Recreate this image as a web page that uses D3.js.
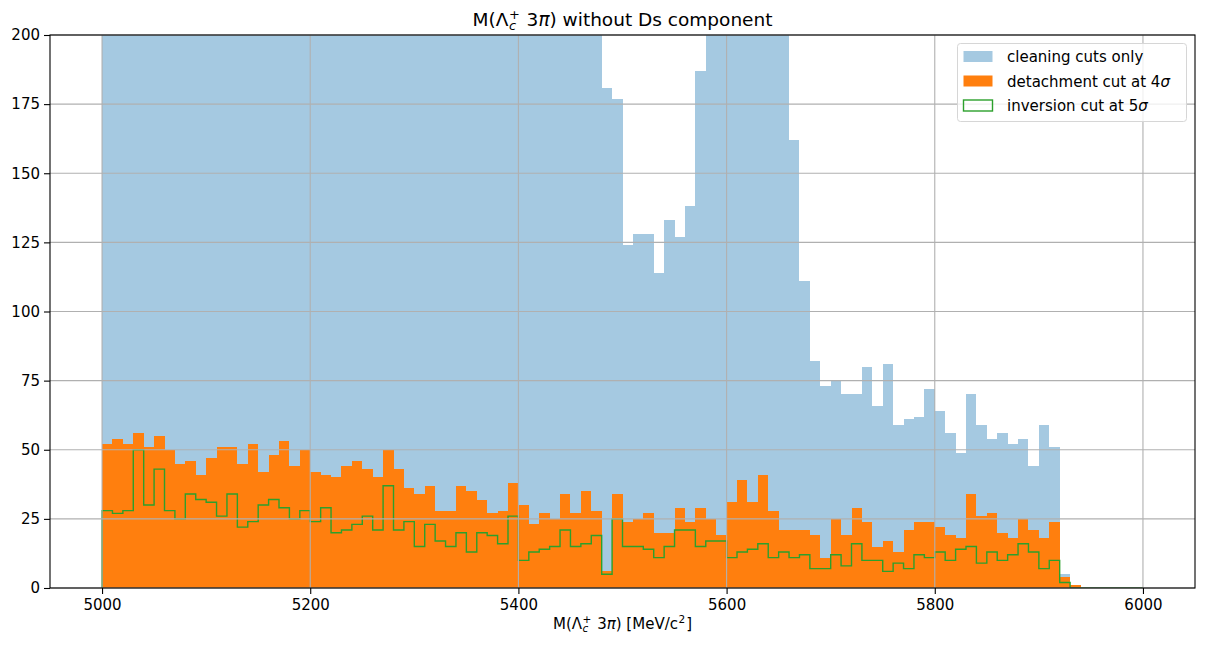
<!DOCTYPE html>
<html>
<head>
<meta charset="utf-8">
<script src="https://cdn.jsdelivr.net/npm/d3@7"></script>
<style>
  body { margin: 0; background: #fff; }
  svg text { font-family: "DejaVu Sans", sans-serif; white-space: pre; fill: #000; }
</style>
</head>
<body>
<svg id="chart" width="1218" height="645"></svg>
<script>
// Histogram binning: 100 bins of 10 MeV/c^2 between 5000 and 6000
const binEdges = d3.range(5000, 6001, 10);

// Entries per bin, cleaning cuts only (first bins run far above the 200 axis limit)
const cleaningCuts = [
  412, 398, 405, 391, 387, 379, 384, 370, 366, 372,
  358, 351, 355, 346, 340, 343, 334, 329, 331, 322,
  318, 320, 311, 306, 309, 300, 297, 292, 294, 286,
  283, 279, 281, 273, 270, 266, 268, 261, 257, 259,
  252, 248, 244, 246, 239, 236, 231, 226, 181, 177,
  124, 128, 128, 114, 133, 127, 138, 187, 236, 281,
  322, 347, 338, 301, 262, 218, 162, 111, 82, 73,
  75, 70, 70, 80, 66, 81, 59, 61, 62, 72,
  64, 56, 49, 70, 59, 54, 56, 52, 54, 44,
  59, 51, 5, 1, 0, 0, 0, 0, 0, 0
];

// Entries per bin after the detachment cut at 4 sigma
const detachmentCut = [
  52, 54, 52, 56, 51, 55, 50, 45, 46, 41,
  47, 51, 51, 45, 52, 42, 48, 53, 44, 50,
  42, 41, 40, 44, 46, 43, 40, 50, 43, 36,
  34, 37, 28, 28, 37, 35, 32, 27, 28, 38,
  30, 23, 27, 25, 34, 27, 35, 28, 6, 34,
  24, 25, 27, 20, 20, 29, 24, 29, 25, 19,
  31, 39, 31, 41, 28, 21, 21, 21, 19, 11,
  25, 19, 29, 24, 15, 17, 13, 21, 24, 24,
  22, 19, 18, 34, 26, 27, 20, 18, 25, 21,
  18, 24, 4, 1, 0, 0, 0, 0, 0, 0
];

// Entries per bin after the inversion cut at 5 sigma
const inversionCut = [
  28, 27, 28, 50, 30, 43, 28, 25, 34, 32,
  31, 26, 34, 22, 24, 30, 32, 29, 25, 28,
  24, 29, 20, 21, 23, 26, 21, 37, 21, 24,
  15, 23, 17, 15, 20, 13, 20, 19, 16, 26,
  10, 13, 14, 15, 21, 15, 16, 19, 5, 25,
  15, 15, 14, 11, 15, 21, 21, 15, 17, 17,
  11, 13, 14, 16, 11, 13, 11, 12, 7, 7,
  12, 8, 16, 10, 10, 6, 9, 7, 12, 11,
  13, 10, 14, 15, 9, 13, 10, 12, 16, 13,
  7, 10, 2, 0, 0, 0, 0, 0, 0, 0
];

const xTicks = [5000, 5200, 5400, 5600, 5800, 6000];
const yTicks = [0, 25, 50, 75, 100, 125, 150, 175, 200];

// Text pieces: plain / italic runs and stacked sub-/superscripts
const titleText = [
  { t: "M(Λ" }, { sub: "c", sup: "+" }, { t: " 3" }, { t: "π", it: true },
  { t: ") without Ds component" }
];
const xLabelText = [
  { t: "M(Λ" }, { sub: "c", sup: "+" }, { t: " 3" }, { t: "π", it: true },
  { t: ") [MeV/c" }, { sup: "2" }, { t: "]" }
];
const legendText = [
  [{ t: "cleaning cuts only" }],
  [{ t: "detachment cut at 4" }, { t: "σ", it: true }],
  [{ t: "inversion cut at 5" }, { t: "σ", it: true }]
];

const colBlue = "rgba(31,119,180,0.4)";
const colOrange = "#ff7f0e";
const colGreen = "#2ca02c";

const plot = { left: 50, right: 1195, top: 35, bottom: 588 };
const svg = d3.select("#chart");

const x = d3.scaleLinear().domain([4950, 6050]).range([plot.left, plot.right]);
const y = d3.scaleLinear().domain([0, 200]).range([plot.bottom, plot.top]);

svg.append("defs").append("clipPath").attr("id", "plotClip")
  .append("rect")
  .attr("x", plot.left).attr("y", plot.top)
  .attr("width", plot.right - plot.left).attr("height", plot.bottom - plot.top);

const area = svg.append("g").attr("clip-path", "url(#plotClip)");

function drawBars(values, fill) {
  const bins = values.map((v, i) => ({ v, x0: binEdges[i], x1: binEdges[i + 1] }))
    .filter(d => d.v > 0);
  area.append("g").attr("shape-rendering", "crispEdges")
    .selectAll("rect").data(bins).join("rect")
    .attr("x", d => x(d.x0))
    .attr("width", d => x(d.x1) - x(d.x0))
    .attr("y", d => y(d.v))
    .attr("height", d => y(0) - y(d.v))
    .attr("fill", fill);
}

drawBars(cleaningCuts, colBlue);
drawBars(detachmentCut, colOrange);

// Outline histogram (step) for the inversion cut
const stepPts = [[binEdges[0], 0]];
inversionCut.forEach((v, i) => { stepPts.push([binEdges[i], v]); stepPts.push([binEdges[i + 1], v]); });
stepPts.push([binEdges[binEdges.length - 1], 0]);
area.append("path")
  .attr("d", d3.line().x(d => x(d[0])).y(d => y(d[1]))(stepPts))
  .attr("fill", "none")
  .attr("stroke", colGreen)
  .attr("stroke-width", 1.4)
  .attr("stroke-linejoin", "miter");

// Grid
const grid = svg.append("g").attr("stroke", "#b0b0b0").attr("stroke-width", 1.1);
grid.selectAll("line.gx").data(xTicks).join("line").attr("class", "gx")
  .attr("x1", d => x(d)).attr("x2", d => x(d))
  .attr("y1", plot.top).attr("y2", plot.bottom);
grid.selectAll("line.gy").data(yTicks).join("line").attr("class", "gy")
  .attr("x1", plot.left).attr("x2", plot.right)
  .attr("y1", d => y(d)).attr("y2", d => y(d));

// Axes
const fs = 15;
const xAxis = d3.axisBottom(x).tickValues(xTicks).tickSize(6).tickPadding(5).tickFormat(d3.format("d"));
const yAxis = d3.axisLeft(y).tickValues(yTicks).tickSize(6).tickPadding(4).tickFormat(d3.format("d"));
const gx = svg.append("g").attr("transform", `translate(0,${plot.bottom})`).call(xAxis);
const gy = svg.append("g").attr("transform", `translate(${plot.left},0)`).call(yAxis);
[gx, gy].forEach(g => {
  g.select(".domain").remove();
  g.selectAll(".tick line").attr("stroke", "#000").attr("stroke-width", 1.1);
  g.selectAll(".tick text").attr("font-size", fs).attr("fill", "#000")
    .style("font-family", '"DejaVu Sans", sans-serif');
});

// Frame
svg.append("rect")
  .attr("x", plot.left).attr("y", plot.top)
  .attr("width", plot.right - plot.left).attr("height", plot.bottom - plot.top)
  .attr("fill", "none").attr("stroke", "#000").attr("stroke-width", 1.1);

// Rich text renderer: one <text> element, each run a positioned <tspan>
function measure(str, size, italic) {
  const t = svg.append("text").attr("font-size", size)
    .attr("font-style", italic ? "italic" : null).text(str);
  const w = t.node().getComputedTextLength();
  t.remove();
  return w;
}
function rich(parent, segs, size, anchor) {
  const runs = [];
  let cx = 0;
  const ss = size * 0.7;
  for (const s of segs) {
    if (s.t !== undefined) {
      runs.push({ str: s.t, x: cx, dy: 0, size, it: !!s.it });
      cx += measure(s.t, size, s.it);
    } else {
      let w = 0;
      if (s.sup !== undefined) {
        runs.push({ str: s.sup, x: cx + 0.5, dy: -size * 0.4, size: ss, it: false });
        w = Math.max(w, measure(s.sup, ss, false) + 0.5);
      }
      if (s.sub !== undefined) {
        runs.push({ str: s.sub, x: cx + 0.5, dy: size * 0.2, size: ss, it: true });
        w = Math.max(w, measure(s.sub, ss, true) + 0.5);
      }
      cx += w + 1;
    }
  }
  const off = anchor === "middle" ? -cx / 2 : 0;
  const txt = parent.append("text").attr("x", 0).attr("y", 0);
  txt.selectAll("tspan").data(runs).join("tspan")
    .attr("x", d => d.x + off)
    .attr("y", d => d.dy)
    .attr("font-size", d => d.size)
    .attr("font-style", d => d.it ? "italic" : null)
    .text(d => d.str);
  return txt;
}

const cxPlot = (plot.left + plot.right) / 2;
rich(svg.append("g").attr("transform", `translate(${cxPlot},26)`), titleText, 18.5, "middle");
rich(svg.append("g").attr("transform", `translate(${cxPlot},629)`), xLabelText, fs, "middle");

// Legend
const lg = svg.append("g");
lg.append("rect").attr("x", 957.5).attr("y", 43.5).attr("width", 229).attr("height", 78)
  .attr("rx", 3).attr("fill", "rgba(255,255,255,0.8)").attr("stroke", "#d6d6d6").attr("stroke-width", 1);
const rowY = [56.5, 81, 105.5];
const handles = [
  { fill: colBlue, stroke: null },
  { fill: colOrange, stroke: null },
  { fill: "none", stroke: colGreen }
];
handles.forEach((h, i) => {
  lg.append("rect").attr("x", 963.5).attr("y", rowY[i] - 5.5).attr("width", 29).attr("height", 11)
    .attr("fill", h.fill).attr("stroke", h.stroke).attr("stroke-width", h.stroke ? 1.4 : null);
  rich(lg.append("g").attr("transform", `translate(1007,${rowY[i] + 5.5})`), legendText[i], fs, "start");
});
</script>
</body>
</html>
